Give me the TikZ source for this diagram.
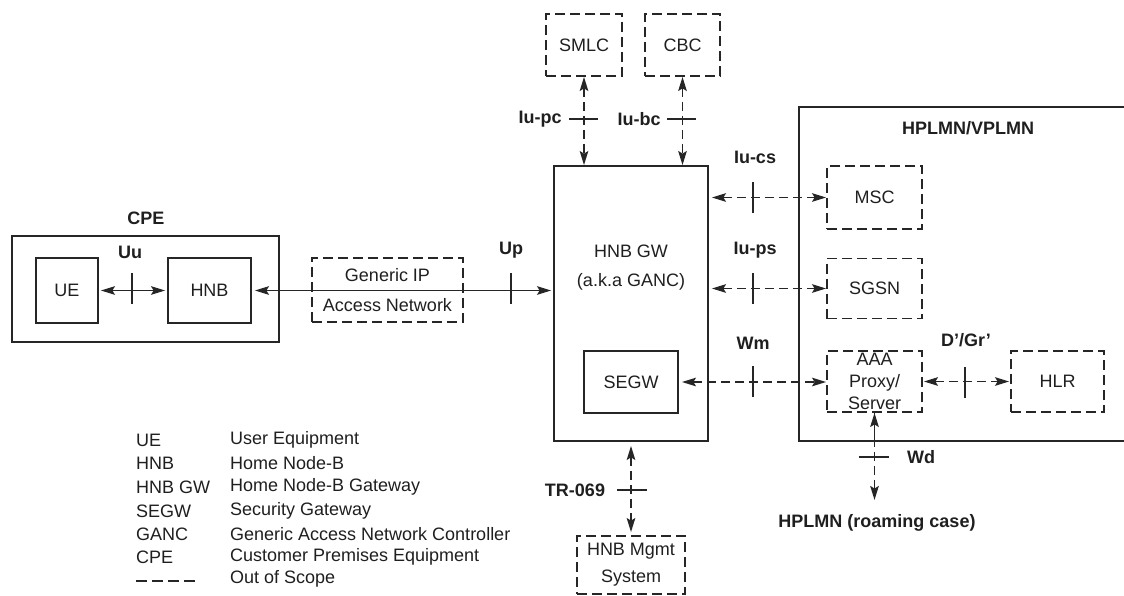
\documentclass[tikz,border=0pt]{standalone}
\usepackage{fontspec}
\setmainfont{Liberation Sans}
\usetikzlibrary{arrows.meta,calc}
\begin{document}
\begin{tikzpicture}[x=1pt,y=-1pt,
  every node/.style={font=\fontsize{18}{21}\selectfont, text=black!88},
  sbox/.style={draw=black!85, line width=1.8pt, inner sep=0pt},
  obox/.style={sbox, dash pattern=on 10pt off 5pt},
  lbl/.style={font=\bfseries\fontsize{18}{21}\selectfont},
  leg/.style={anchor=west, inner sep=0pt},
  conn/.style={draw=black!85, line width=1.8pt, {Stealth[length=14pt,width=8.5pt,inset=2.5pt]}-{Stealth[length=14pt,width=8.5pt,inset=2.5pt]}},
  dconn/.style={conn, dash pattern=on 9pt off 5pt},
  tickmark/.style={draw=black!85, line width=1.8pt}]
\useasboundingbox (0,0) rectangle (1124,595);

% ---------- boxes ----------
\node[sbox, minimum width=267pt, minimum height=106pt] (cpe) at (145.5,289) {};
\node[sbox, minimum width=62pt, minimum height=65pt] (ue) at (67,290.5) {UE};
\node[sbox, minimum width=83pt, minimum height=65pt] (hnb) at (209.5,290.5) {HNB};
\node[obox, minimum width=151pt, minimum height=64pt, align=center, font=\fontsize{18}{30}\selectfont] (gip) at (387.5,290) {Generic IP\\Access Network};
\node[sbox, minimum width=154pt, minimum height=275pt] (hnbgw) at (631,303.5) {};
\node[align=center, font=\fontsize{18}{29}\selectfont] (hnbgwtxt) at (631,267.5) {HNB GW\\(a.k.a GANC)};
\node[sbox, minimum width=94pt, minimum height=62pt] (segw) at (631,382) {SEGW};
\node[obox, minimum width=76pt, minimum height=62pt] (smlc) at (584,45) {SMLC};
\node[obox, minimum width=75pt, minimum height=62pt] (cbc) at (682.5,45) {CBC};
\draw[draw=black!85, line width=1.8pt] (1124,107) -- (799,107) -- (799,441) -- (1124,441);
\node[obox, minimum width=95pt, minimum height=63pt] (msc) at (874.5,197.5) {MSC};
\node[obox, minimum width=95pt, minimum height=60pt] (sgsn) at (874.5,288.5) {SGSN};
\node[obox, minimum width=95pt, minimum height=61pt, align=center, font=\fontsize{18}{22}\selectfont] (aaa) at (874.5,381.5) {AAA\\Proxy/\\Server};
\node[obox, minimum width=93pt, minimum height=61pt] (hlr) at (1057.5,381.5) {HLR};
\node[obox, minimum width=108pt, minimum height=58pt, align=center, font=\fontsize{18}{27}\selectfont] (mgmt) at (631,565) {HNB Mgmt\\System};

% ---------- labels ----------
\node[lbl] (lcpe) at (146,218) {CPE};
\node[lbl] (luu) at (130,252) {Uu};
\node[lbl] (lup) at (511,250) {Up};
\node[lbl] (lpc) at (540,119) {Iu-pc};
\node[lbl] (lbc) at (639,119) {Iu-bc};
\node[lbl] (lplmn) at (968,128) {HPLMN/VPLMN};
\node[lbl] (lcs) at (755,157) {Iu-cs};
\node[lbl] (lps) at (755,250) {Iu-ps};
\node[lbl] (lwm) at (753,343) {Wm};
\node[lbl] (ldgr) at (966,340) {D'/Gr'};
\node[lbl] (lwd) at (921,457) {Wd};
\node[lbl] (ltr) at (575,490) {TR-069};
\node[lbl] (lroam) at (877,523) {HPLMN (roaming case)};

% ---------- connectors ----------
\draw[conn, shorten <=2pt, shorten >=2pt] (ue.east) -- (hnb.west);
\draw[conn, shorten <=3pt, shorten >=2pt] (hnb.east) -- (hnb.east -| hnbgw.west);
\draw[dconn] (smlc.south) -- (smlc.south |- hnbgw.north);
\draw[dconn] (cbc.south) -- (cbc.south |- hnbgw.north);
\draw[dconn, shorten <=3pt] (msc.west -| hnbgw.east) -- (msc.west);
\draw[dconn, shorten <=3pt] (sgsn.west -| hnbgw.east) -- (sgsn.west);
\draw[dconn, shorten <=3pt] (segw.east) -- (segw.east -| aaa.west);
\draw[dconn, shorten <=1pt, shorten >=1pt] (aaa.east) -- (hlr.west);
\coordinate (wdend) at (874.5,500);
\coordinate (wdsolid) at (874.5,441);
\draw[draw=black!85, line width=1.8pt] (aaa.south) -- (wdsolid);
\draw[dconn] (aaa.south) -- (wdend);
\draw[dconn, shorten <=4pt, shorten >=3pt] (hnbgw.south) -- (mgmt.north);

% ---------- interface ticks ----------
\draw[tickmark] (132,273) -- (132,304);
\draw[tickmark] (511,273) -- (511,304);
\draw[tickmark] (569,119) -- (598,119);
\draw[tickmark] (667,119) -- (696,119);
\draw[tickmark] (753,182) -- (753,213);
\draw[tickmark] (753,273) -- (753,304);
\draw[tickmark] (753,366) -- (753,397);
\draw[tickmark] (965,367) -- (965,398);
\draw[tickmark] (859,457) -- (889,457);
\draw[tickmark] (617,490) -- (647,490);

% ---------- legend ----------
\node[leg] (k1) at (136,440) {UE};
\node[leg] (v1) at (230,440) {User Equipment};
\node[leg] (k2) at (136,463) {HNB};
\node[leg] (v2) at (230,463) {Home Node-B};
\node[leg] (k3) at (136,487) {HNB GW};
\node[leg] (v3) at (230,487) {Home Node-B Gateway};
\node[leg] (k4) at (136,511) {SEGW};
\node[leg] (v4) at (230,511) {Security Gateway};
\node[leg] (k5) at (136,534) {GANC};
\node[leg] (v5) at (230,534) {Generic Access Network Controller};
\node[leg] (k6) at (136,557) {CPE};
\node[leg] (v6) at (230,557) {Customer Premises Equipment};
\coordinate (k7a) at (136,581);
\coordinate (k7b) at (198,581);
\draw[draw=black!85, line width=1.6pt, dash pattern=on 11pt off 5pt] (k7a) -- (k7b);
\node[leg] (v7) at (230,579) {Out of Scope};
\end{tikzpicture}
\end{document}
